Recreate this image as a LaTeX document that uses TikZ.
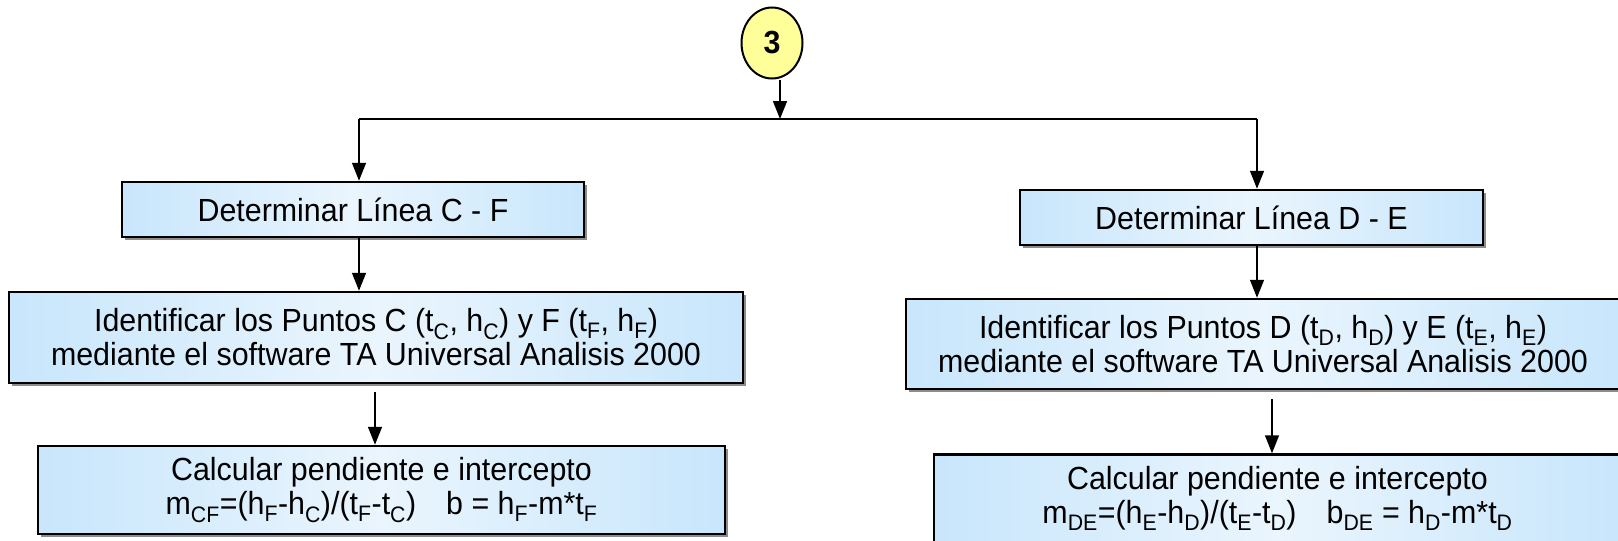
\documentclass[tikz,border=0pt]{standalone}
\usepackage{fontspec}
\setmainfont{Liberation Sans}[FakeStretch=0.95]
\usetikzlibrary{shapes.geometric,arrows.meta,shadows}
\definecolor{boxblue}{RGB}{200,230,252}
\definecolor{boxlight}{RGB}{234,245,253}
\definecolor{circyellow}{RGB}{255,255,153}
\newcommand{\sbx}[1]{\textsubscript{#1}}
\tikzset{
 procbox/.style={draw=black, line width=2.5pt, inner sep=0pt, align=center,
   left color=boxblue, right color=boxblue, middle color=boxlight,
   drop shadow={shadow xshift=3pt,shadow yshift=-3pt,fill=black!45,opacity=1},
   font=\fontsize{32}{34}\selectfont},
 conn/.style={line width=1.5pt, -{Triangle[width=14pt,length=18pt]}},
 plainline/.style={line width=1.5pt},
}
\begin{document}
\begin{tikzpicture}[x=1pt,y=-1pt]
\clip (0,0) rectangle (1618,541);
\node[ellipse, draw, line width=2pt, fill=circyellow, minimum width=61pt, minimum height=71pt, inner sep=0pt, font=\fontsize{32}{34}\selectfont\bfseries] (c) at (772,43) {3};

\node[procbox, minimum width=462pt, minimum height=55pt] (L1) at (353,209.5) {Determinar Línea C - F};
\node[procbox, minimum width=734pt, minimum height=91pt] (L2) at (376,337.5)
 {Identificar los Puntos C (t\sbx{C}, h\sbx{C}) y F (t\sbx{F}, h\sbx{F})\\mediante el software TA Universal Analisis 2000};
\node[procbox, minimum width=687pt, minimum height=88pt] (L3) at (381.5,490)
 {Calcular pendiente e intercepto\\m\sbx{CF}=(h\sbx{F}-h\sbx{C})/(t\sbx{F}-t\sbx{C})\hspace{30pt}b = h\sbx{F}-m*t\sbx{F}};

\node[procbox, minimum width=463pt, minimum height=55pt] (R1) at (1251.5,217.5) {Determinar Línea D - E};
\node[procbox, minimum width=714pt, minimum height=90pt] (R2) at (1263,344)
 {Identificar los Puntos D (t\sbx{D}, h\sbx{D}) y E (t\sbx{E}, h\sbx{E})\\mediante el software TA Universal Analisis 2000};
\node[procbox, minimum width=687pt, minimum height=88pt] (R3) at (1277.5,498.5)
 {Calcular pendiente e intercepto\\m\sbx{DE}=(h\sbx{E}-h\sbx{D})/(t\sbx{E}-t\sbx{D})\hspace{30pt}b\sbx{DE} = h\sbx{D}-m*t\sbx{D}};

\coordinate (j) at (780,119);
\coordinate (bl) at (359,119);
\coordinate (br) at (1257,119);
\coordinate (lx) at (375,0);
\coordinate (rx) at (1272,0);

\draw[plainline] (bl) -- (br);
\draw[conn] (j |- c.south) -- (j);
\draw[conn] (bl) -- (bl |- L1.north);
\draw[conn] (br) -- (br |- R1.north);
\draw[conn] (bl |- L1.south) -- (bl |- L2.north);
\draw[conn] (br |- R1.south) -- (br |- R2.north);
\draw[conn, shorten <=8pt] (lx |- L2.south) -- (lx |- L3.north);
\draw[conn, shorten <=9pt] (rx |- R2.south) -- (rx |- R3.north);
\end{tikzpicture}
\end{document}
